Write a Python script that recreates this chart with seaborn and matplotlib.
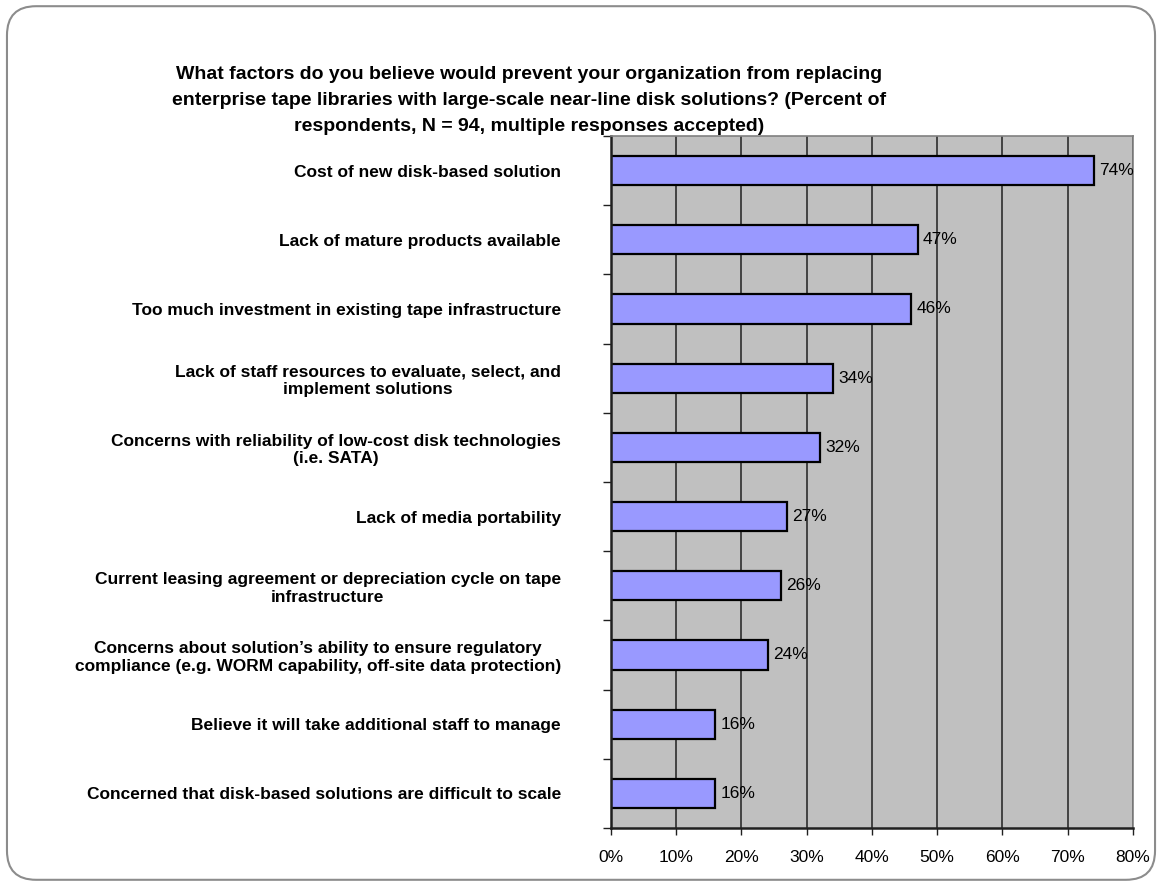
import numpy as np
import pandas as pd
import seaborn as sns
import matplotlib.pyplot as plt
from matplotlib.patches import FancyBboxPatch
from matplotlib.ticker import FixedLocator

# survey answers, top to bottom as in the chart
factors = [
    'Cost of new disk-based solution',
    'Lack of mature products available',
    'Too much investment in existing tape infrastructure',
    'Lack of staff resources to evaluate, select, and\nimplement solutions',
    'Concerns with reliability of low-cost disk technologies\n(i.e. SATA)',
    'Lack of media portability',
    'Current leasing agreement or depreciation cycle on tape\ninfrastructure',
    'Concerns about solution\u2019s ability to ensure regulatory\ncompliance (e.g. WORM capability, off-site data protection)',
    'Believe it will take additional staff to manage',
    'Concerned that disk-based solutions are difficult to scale',
]
percent = [74, 47, 46, 34, 32, 27, 26, 24, 16, 16]
x_ticks = [0, 10, 20, 30, 40, 50, 60, 70, 80]
x_tick_labels = ['0%', '10%', '20%', '30%', '40%', '50%', '60%', '70%', '80%']

title = ('What factors do you believe would prevent your organization from replacing\n'
         'enterprise tape libraries with large-scale near-line disk solutions? (Percent of\n'
         'respondents, N = 94, multiple responses accepted)')

df = pd.DataFrame({'factor': factors, 'percent': percent})

sns.set_style('white')
plt.rcParams['font.family'] = ['Liberation Sans', 'DejaVu Sans']
plt.rcParams['text.color'] = 'black'
plt.rcParams['xtick.color'] = 'black'
plt.rcParams['ytick.color'] = 'black'

fig = plt.figure(figsize=(11.62, 8.86), dpi=100)
ax = fig.add_axes([0.5258, 0.0655, 0.975 - 0.5258, 0.8465 - 0.0655])
ax.set_facecolor('#C0C0C0')

# rounded frame round the whole chart
frame = FancyBboxPatch((0.006, 0.007), 0.988, 0.986, boxstyle='round,pad=0,rounding_size=0.025',
                       transform=fig.transFigure, facecolor='none', edgecolor='#8c8c8c',
                       linewidth=1.5, mutation_aspect=1162 / 886)
fig.patches.append(frame)

ax.set_axisbelow(True)
ax.xaxis.grid(True, color='#202020', linewidth=1.1)
sns.barplot(data=df, x='percent', y='factor', orient='h', color='#9999FF', saturation=1,
            edgecolor='black', linewidth=1.6, width=0.42, ax=ax)

for i, v in enumerate(percent):
    ax.text(v + 0.8, i, '{}%'.format(v), va='center', ha='left', fontsize=12.5, color='black')

ax.set_xlim(0, 80)
ax.set_ylim(9.5, -0.5)
ax.set_xticks(x_ticks)
ax.set_xticklabels(x_tick_labels, fontsize=12.5)
ax.tick_params(axis='x', direction='out', length=5, width=1, color='#202020', pad=11, bottom=True)

ax.set_yticks(range(len(factors)))
ax.set_yticklabels(factors, fontsize=12.5, fontweight='bold', multialignment='center')
ax.tick_params(axis='y', which='major', length=0, pad=36)
ax.yaxis.set_minor_locator(FixedLocator(np.arange(-0.5, 10, 1)))
ax.tick_params(axis='y', which='minor', left=True, direction='out', length=6, width=1, color='#202020')

ax.set_xlabel('')
ax.set_ylabel('')
for side in ['left', 'bottom']:
    ax.spines[side].set_color('#202020')
    ax.spines[side].set_linewidth(1.8)
for side in ['top', 'right']:
    ax.spines[side].set_color('#808080')
    ax.spines[side].set_linewidth(1.2)

fig.text(0.455, 1 - 66 / 886, title, ha='center', va='top', fontsize=14, fontweight='bold',
         linespacing=1.68, multialignment='center')

fig.savefig('out.png', dpi=100)
